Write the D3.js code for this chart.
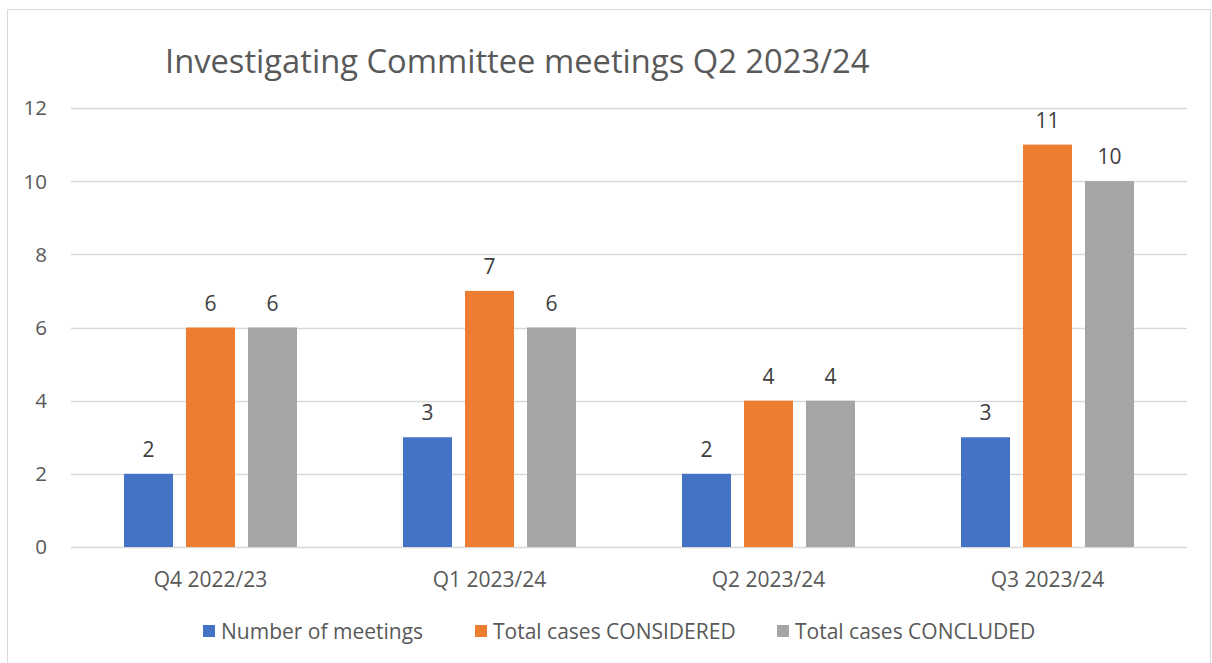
<!DOCTYPE html>
<html><head><meta charset="utf-8">
<script src="https://cdn.jsdelivr.net/npm/d3@7"></script>
<style>body{margin:0;background:#fff}svg{display:block}</style>
</head><body>
<svg id="c" width="1212" height="663"></svg>
<script>
const categories = ["Q4 2022/23", "Q1 2023/24", "Q2 2023/24", "Q3 2023/24"];
const seriesNames = ["Number of meetings", "Total cases CONSIDERED", "Total cases CONCLUDED"];
const meetings = [2, 3, 2, 3];
const considered = [6, 7, 4, 11];
const concluded = [6, 6, 4, 10];
const yTicks = [0, 2, 4, 6, 8, 10, 12];
const colors = ["#4472C4", "#ED7D31", "#A5A5A5"];
const title = "Investigating Committee meetings Q2 2023/24";

const seriesValues = [meetings, considered, concluded];
const svg = d3.select("#c");
const font = "'Open Sans', sans-serif";
const txt = "#595959";

svg.append("rect").attr("x",7.5).attr("y",9.5).attr("width",1203).attr("height",660)
  .attr("fill","#fff").attr("stroke","#d9d9d9");

const L = 71, R = 1187, T = 108, B = 547;
const x0 = d3.scaleBand().domain(categories).range([L, R]).padding(0);
const y = d3.scaleLinear().domain([0, 12]).range([B, T]);
const groupW = x0.bandwidth() * 173 / 279;
const x1 = d3.scaleBand().domain(seriesNames).range([0, groupW]).paddingInner(13/62).paddingOuter(0);

// gridlines
svg.append("g").selectAll("line").data(yTicks).join("line")
  .attr("x1", L).attr("x2", R).attr("y1", d => Math.round(y(d))+0.5).attr("y2", d => Math.round(y(d))+0.5)
  .attr("stroke", "#d9d9d9").attr("stroke-width", 1.3);

// y tick labels
svg.append("g").selectAll("text").data(yTicks).join("text")
  .attr("x", 47).attr("y", d => y(d)).attr("dy", "0.36em").attr("text-anchor", "end")
  .attr("fill", txt).style("font-family", font).style("font-size", "20.5px").text(d => d);

// bars
const groups = svg.append("g").selectAll("g").data(categories).join("g")
  .attr("transform", d => `translate(${x0(d) + (x0.bandwidth() - groupW)/2},0)`);
groups.each(function(cat, ci) {
  const g = d3.select(this);
  seriesNames.forEach((s, si) => {
    const v = seriesValues[si][ci];
    g.append("rect").attr("x", x1(s)).attr("width", x1.bandwidth())
      .attr("y", y(v)).attr("height", y(0) - y(v)).attr("fill", colors[si]);
    g.append("text").attr("x", x1(s) + x1.bandwidth()/2).attr("y", y(v) - 17)
      .attr("text-anchor", "middle").attr("fill", "#404040")
      .style("font-family", font).style("font-size", "21px").text(v);
  });
});

// category labels
svg.append("g").selectAll("text").data(categories).join("text")
  .attr("x", d => x0(d) + x0.bandwidth()/2).attr("y", 587).attr("text-anchor", "middle")
  .attr("fill", txt).style("font-family", font).style("font-size", "21px").text(d => d);

// title
svg.append("text").attr("x", 165).attr("y", 73).attr("fill", txt)
  .style("font-family", font).style("font-size", "32.7px").text(title);

// legend
const legX = [203, 475, 777];
const leg = svg.append("g").selectAll("g").data(seriesNames).join("g")
  .attr("transform", (d, i) => `translate(${legX[i]},625)`);
leg.append("rect").attr("width", 12).attr("height", 12).attr("fill", (d, i) => colors[i]);
leg.append("text").attr("x", 18).attr("y", 14).attr("fill", txt)
  .style("font-family", font).style("font-size", "21px").text(d => d);
</script>
</body></html>
